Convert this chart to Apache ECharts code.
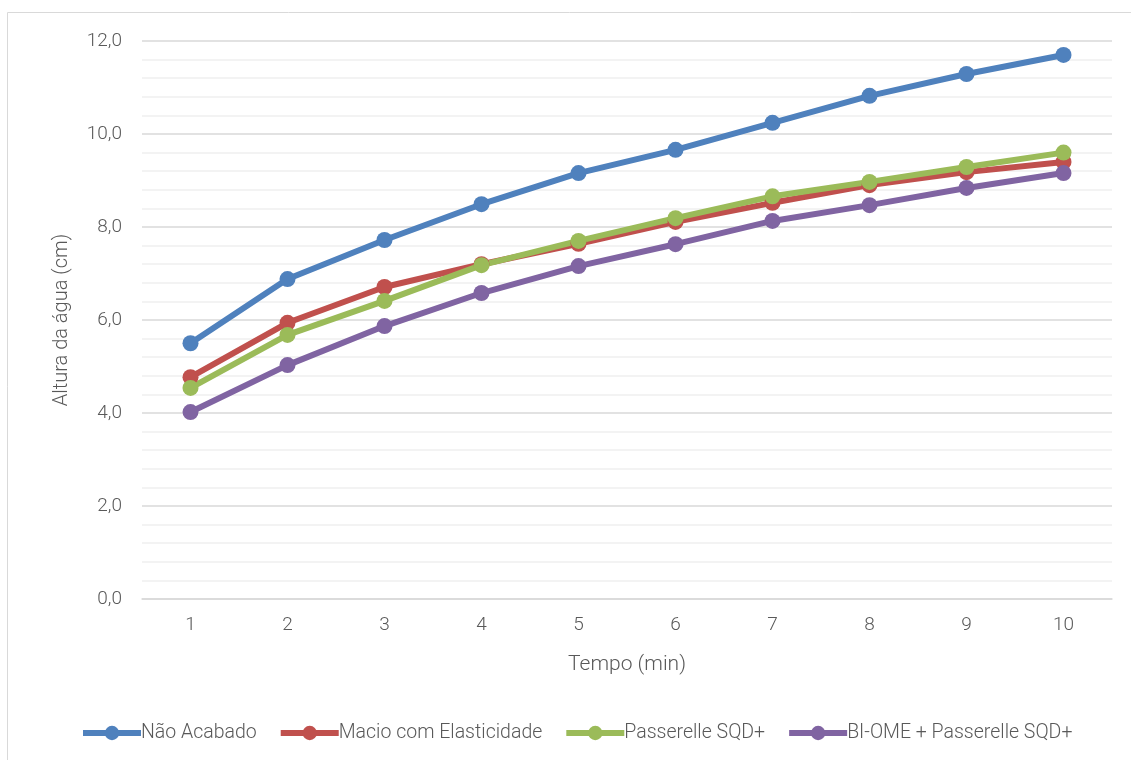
<!DOCTYPE html>
<html>
<head>
<meta charset="utf-8">
<script src="https://cdn.jsdelivr.net/npm/echarts@6/dist/echarts.min.js"></script>
<style>
  html, body { margin: 0; padding: 0; background: #fff; }
  #chart { width: 1131px; height: 760px; }
</style>
</head>
<body>
<div id="chart"></div>
<script>
// Water height over time for four fabric finishes
const categories = ['1', '2', '3', '4', '5', '6', '7', '8', '9', '10'];
const naoAcabado = [5.50, 6.88, 7.72, 8.49, 9.16, 9.66, 10.24, 10.82, 11.29, 11.70];
const macioElasticidade = [4.77, 5.94, 6.71, 7.20, 7.64, 8.11, 8.52, 8.90, 9.18, 9.40];
const passerelleSQD = [4.54, 5.68, 6.41, 7.18, 7.70, 8.19, 8.66, 8.97, 9.29, 9.60];
const biomePasserelle = [4.02, 5.03, 5.87, 6.58, 7.16, 7.63, 8.13, 8.47, 8.84, 9.16];
const seriesNames = ['Não Acabado', 'Macio com Elasticidade', 'Passerelle SQD+', 'BI-OME + Passerelle SQD+'];
const colors = ['#4F81BD', '#C0504D', '#9BBB59', '#8064A2'];

const font = 'Roboto, "Liberation Sans", sans-serif';
const textColor = '#595959';

const chart = echarts.init(document.getElementById('chart'), null, { renderer: 'canvas' });

const dataSets = [naoAcabado, macioElasticidade, passerelleSQD, biomePasserelle];

chart.setOption({
  animation: false,
  color: colors,
  graphic: [{
    type: 'rect',
    shape: { x: 7.5, y: 12.5, width: 1140, height: 760 },
    style: { fill: 'none', stroke: '#d9d9d9', lineWidth: 1 },
    silent: true
  }],
  grid: { left: 142, right: 19, top: 41, bottom: 161, containLabel: false },
  legend: {
    bottom: 12,
    left: 75,
    itemWidth: 58,
    itemHeight: 18,
    itemGap: 21,
    lineStyle: { width: 6 },
    textStyle: { fontFamily: font, fontWeight: 300, fontSize: 19.5, color: textColor, padding: [0, 0, 0, -5] },
    data: seriesNames
  },
  xAxis: {
    type: 'category',
    data: categories,
    boundaryGap: true,
    name: 'Tempo (min)',
    nameLocation: 'middle',
    nameGap: 55,
    nameTextStyle: { fontFamily: font, fontWeight: 300, fontSize: 21, color: textColor },
    axisLine: { show: true, lineStyle: { color: '#d9d9d9', width: 1.5 } },
    axisTick: { show: false },
    axisLabel: { fontFamily: font, fontWeight: 300, fontSize: 19, color: textColor, margin: 17 },
    splitLine: { show: false }
  },
  yAxis: {
    type: 'value',
    min: 0,
    max: 12,
    interval: 2,
    name: 'Altura da água (cm)',
    nameLocation: 'middle',
    nameGap: 70,
    nameTextStyle: { fontFamily: font, fontWeight: 300, fontSize: 20, color: textColor },
    axisLine: { show: false },
    axisTick: { show: false },
    axisLabel: {
      fontFamily: font, fontWeight: 300, fontSize: 19, color: textColor, margin: 20,
      formatter: v => v.toFixed(1).replace('.', ',')
    },
    splitLine: { show: true, lineStyle: { color: '#d9d9d9', width: 1.5 } },
    minorTick: { show: false, splitNumber: 5 },
    minorSplitLine: { show: true, lineStyle: { color: '#efefef', width: 1.5 } }
  },
  series: seriesNames.map((name, i) => ({
    name,
    type: 'line',
    data: dataSets[i],
    symbol: 'circle',
    symbolSize: 16,
    lineStyle: { width: 6, color: colors[i] },
    itemStyle: { color: colors[i] }
  }))
});
</script>
</body>
</html>
